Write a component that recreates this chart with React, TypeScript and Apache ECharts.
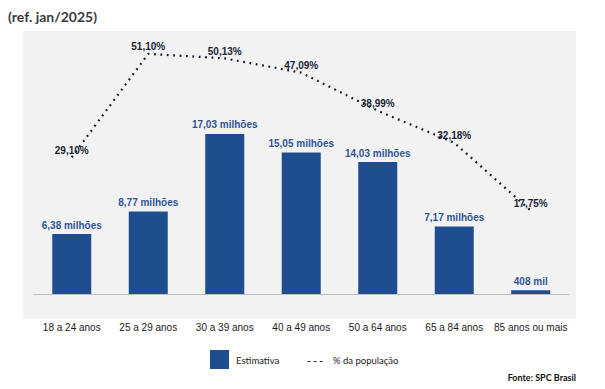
import React, { useEffect, useRef } from "react";
import * as echarts from "echarts";

const categories = [
  "18 a 24 anos",
  "25 a 29 anos",
  "30 a 39 anos",
  "40 a 49 anos",
  "50 a 64 anos",
  "65 a 84 anos",
  "85 anos ou mais",
];
const estimates = [6.38, 8.77, 17.03, 15.05, 14.03, 7.17, 0.408];
const estimateLabels = [
  "6,38 milhões",
  "8,77 milhões",
  "17,03 milhões",
  "15,05 milhões",
  "14,03 milhões",
  "7,17 milhões",
  "408 mil",
];
const populationPct = [29.1, 51.1, 50.13, 47.09, 38.99, 32.18, 17.75];

const NARROW = "'Liberation Sans', Arial, sans-serif";
const SOFT = "Lato, 'Open Sans', sans-serif";
const BAR = "#1f4e8f";

export default function App() {
  const ref = useRef<HTMLDivElement>(null);
  useEffect(() => {
    if (!ref.current) return;
    const chart = echarts.init(ref.current, null, { renderer: "svg" });
    chart.setOption({
      animation: false,
      backgroundColor: "#ffffff",
      grid: { left: 33.5, right: 36, top: 30.8, bottom: 95, containLabel: false },
      xAxis: {
        type: "category",
        data: categories,
        axisLine: { show: true, lineStyle: { color: "#bfbfbf", width: 1 } },
        axisTick: { show: false },
        axisLabel: {
          interval: 0,
          margin: 28,
          color: "#1a1a1a",
          fontFamily: NARROW,
          fontSize: 10,
        },
      },
      yAxis: [
        { type: "value", min: 0, max: 28, show: false, splitLine: { show: false } },
        { type: "value", min: 0, max: 56, show: false, splitLine: { show: false } },
      ],
      series: [
        {
          name: "Estimativa",
          type: "bar",
          data: estimates,
          barWidth: 39,
          itemStyle: { color: BAR },
          label: {
            show: true,
            position: "top",
            distance: 4,
            color: "#2f5597",
            fontFamily: NARROW,
            fontWeight: "bold",
            fontSize: 10,
            formatter: (p: any) => estimateLabels[p.dataIndex],
          },
          z: 2,
        },
        {
          name: "% da população",
          type: "line",
          yAxisIndex: 1,
          data: populationPct,
          symbol: "circle",
          symbolSize: 0.1,
          showSymbol: true,
          itemStyle: { color: "rgba(0,0,0,0)" },
          lineStyle: { color: "#141a2e", width: 2.2, type: [1.8, 4.6], cap: "butt" },
          label: {
            show: true,
            position: "top",
            distance: 2,
            color: "#1a1f33",
            fontFamily: NARROW,
            fontWeight: "bold",
            fontSize: 10,
            formatter: (p: any) => p.value.toFixed(2).replace(".", ",") + "%",
          },
          z: 3,
        },
      ],
      graphic: [
        {
          type: "rect",
          silent: true,
          z: -10,
          shape: { x: 23, y: 31, width: 553, height: 288 },
          style: { fill: "#f2f2f2" },
        },
        {
          type: "text",
          x: 8,
          y: 16,
          style: {
            text: "(ref. jan/2025)",
            fill: "#3a3a3a",
            font: `bold 14px ${SOFT}`,
            verticalAlign: "middle",
          },
        },
        {
          type: "rect",
          shape: { x: 210, y: 350, width: 19, height: 19 },
          style: { fill: BAR },
        },
        {
          type: "text",
          x: 236,
          y: 360,
          style: { text: "Estimativa", fill: "#222", font: `9.5px ${SOFT}`, verticalAlign: "middle" },
        },
        {
          type: "text",
          x: 307,
          y: 360,
          style: { text: "- - -", fill: "#222", font: `bold 10px ${SOFT}`, verticalAlign: "middle" },
        },
        {
          type: "text",
          x: 333,
          y: 360,
          style: { text: "% da população", fill: "#222", font: `9.5px ${SOFT}`, verticalAlign: "middle" },
        },
        {
          type: "text",
          x: 576,
          y: 377,
          style: {
            text: "Fonte: SPC Brasil",
            fill: "#111",
            font: `bold 9px ${SOFT}`,
            align: "right",
            verticalAlign: "middle",
          },
        },
      ],
    });
    return () => chart.dispose();
  }, []);
  return (
    <div
      ref={ref}
      style={{ position: "absolute", left: 0, top: 0, width: 605, height: 389 }}
    />
  );
}
